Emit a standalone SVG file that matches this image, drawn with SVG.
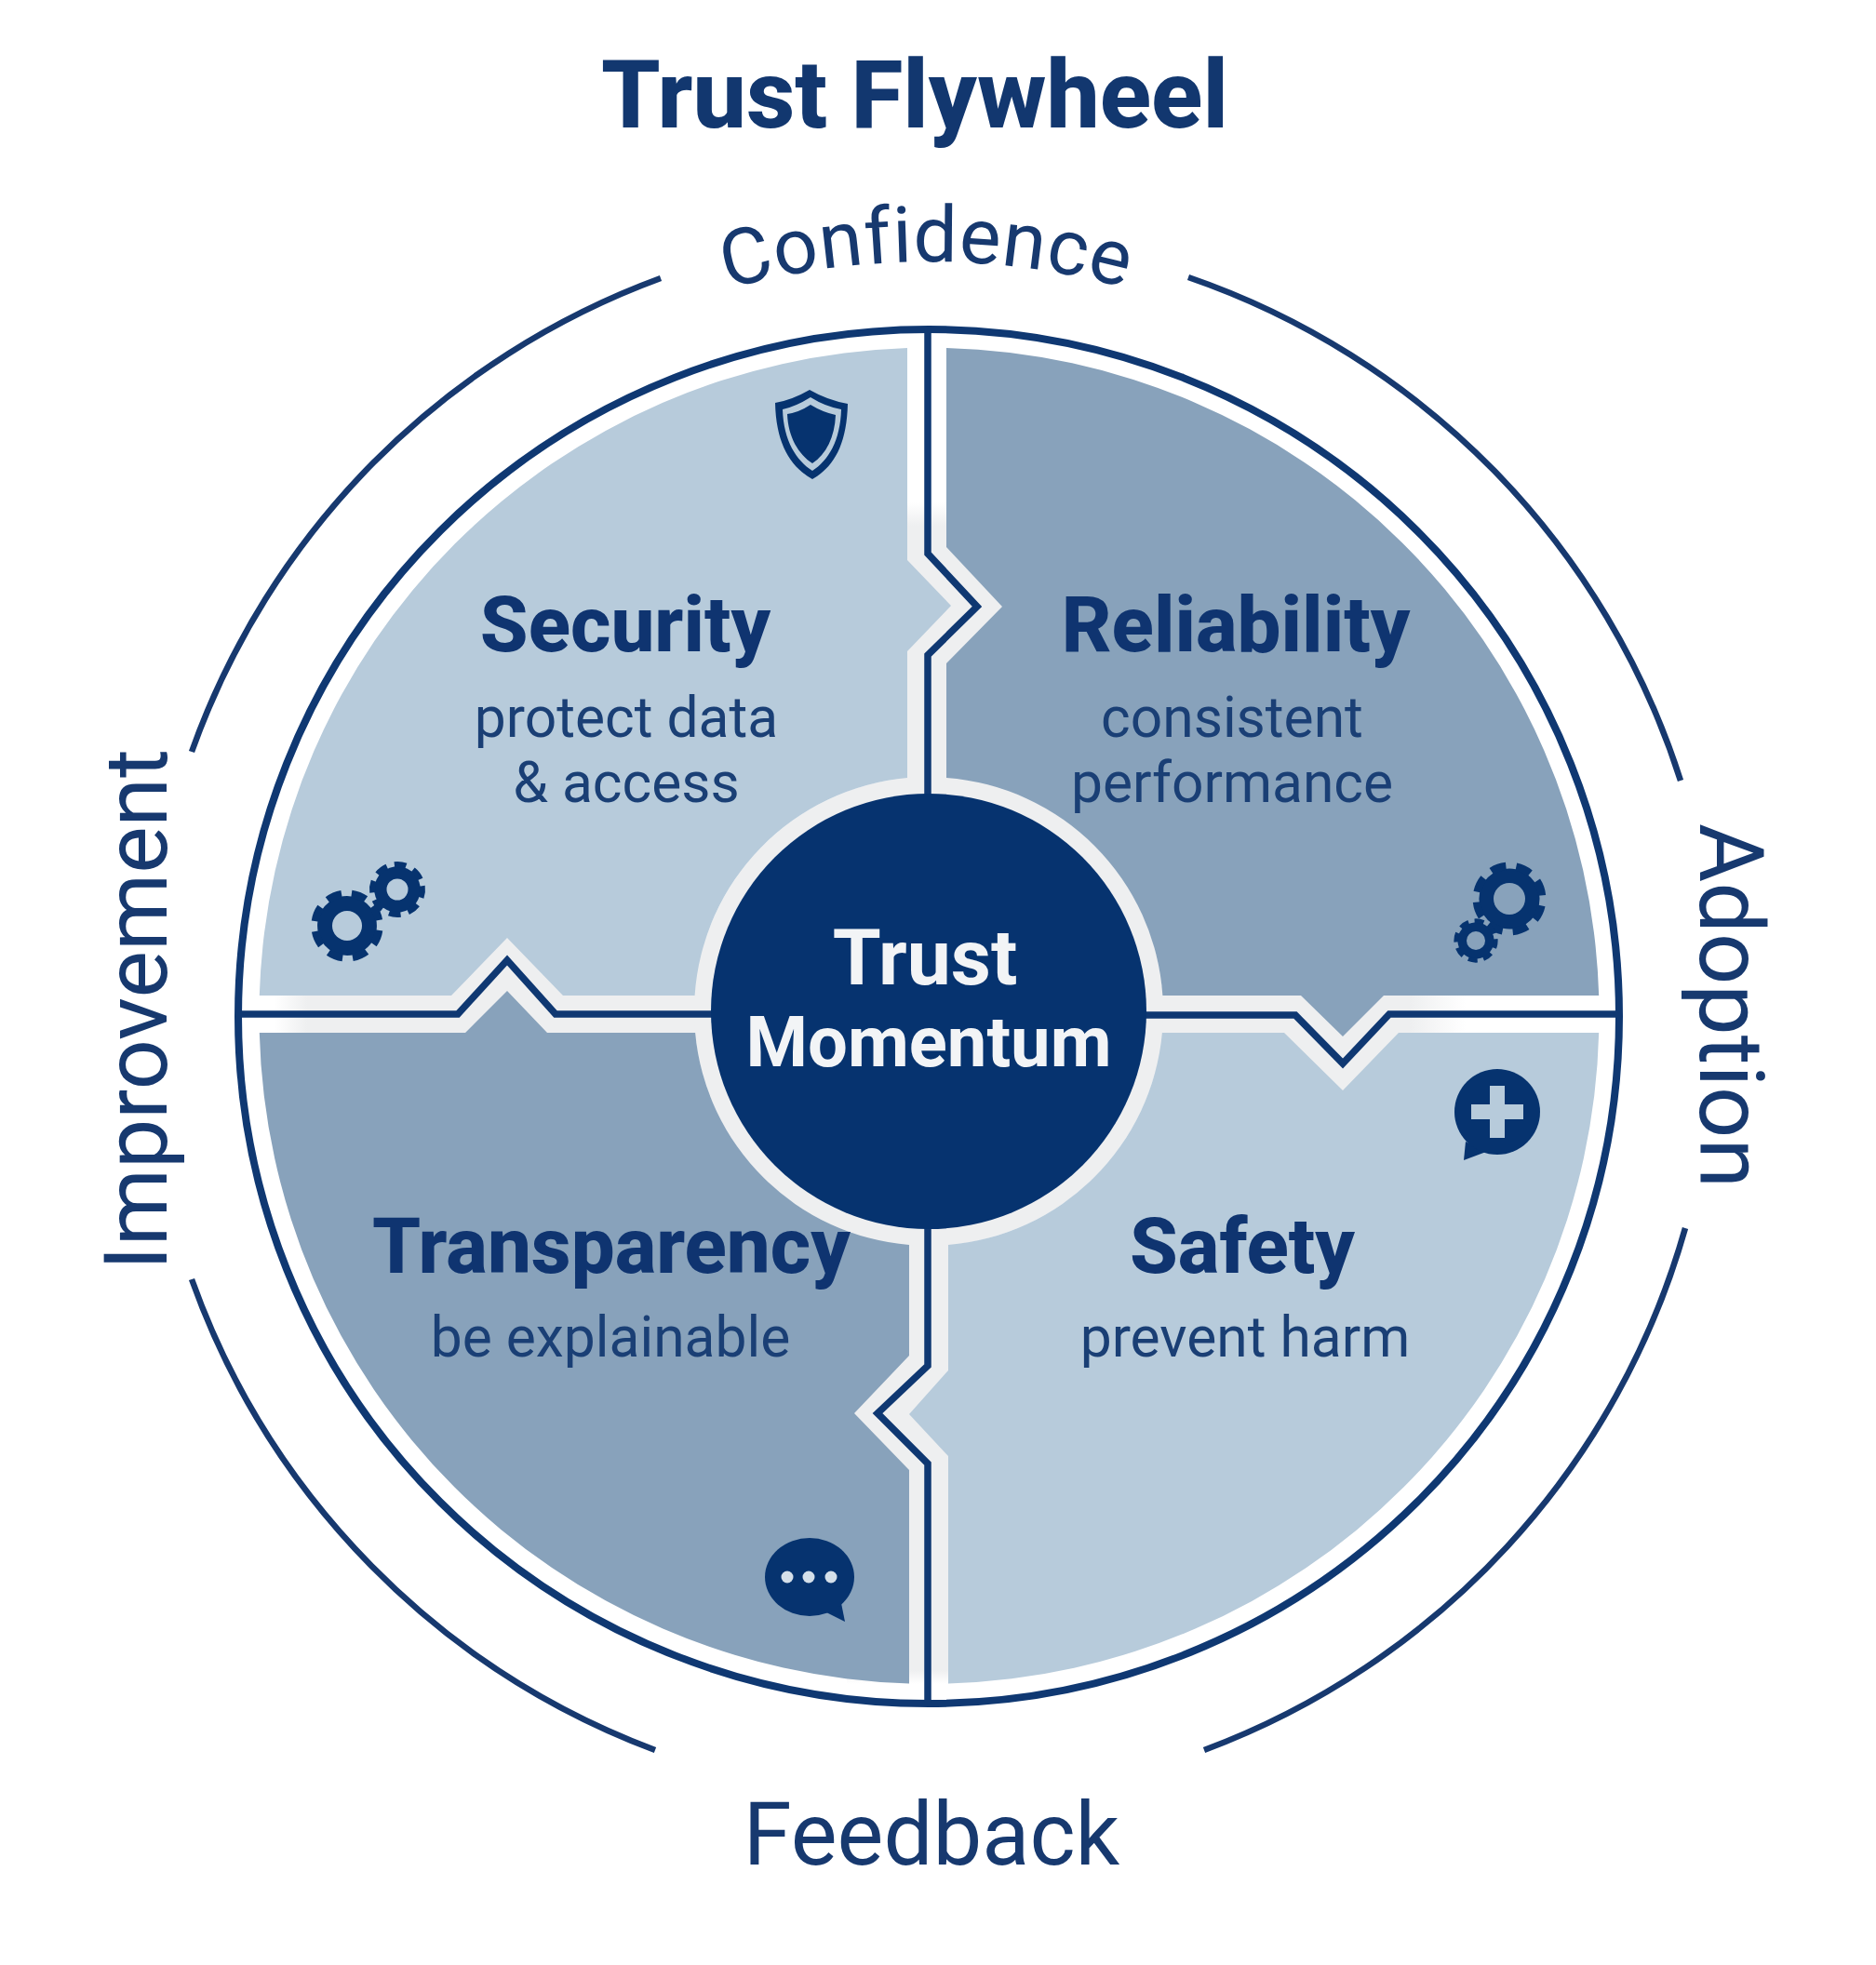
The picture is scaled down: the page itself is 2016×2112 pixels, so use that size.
<svg xmlns="http://www.w3.org/2000/svg" width="2016" height="2112" viewBox="0 0 2016 2112">
<style>
text{font-family:Roboto,"Liberation Sans",sans-serif;text-anchor:middle}
.head{font-weight:800;font-size:83.5px;fill:#0f3470}
.sub{font-size:60.5px;fill:#1a3f75}
.ring-label{fill:#17396f}
.center{font-weight:700;fill:#f2f4f6}
.light{fill:#b7cbdb}
.dark{fill:#88a2bb}
.navy{fill:#06336f}
.line{fill:none;stroke:#0f3872;stroke-width:7.5;stroke-linejoin:miter}
.arc{fill:none;stroke:#17396f;stroke-width:6.5}
</style>
<defs>
<linearGradient id="gt" gradientUnits="userSpaceOnUse" x1="0" y1="540" x2="0" y2="565"><stop offset="0" stop-color="#fff"/><stop offset="1" stop-color="#eeeff0"/></linearGradient>
<linearGradient id="gl" gradientUnits="userSpaceOnUse" x1="295" y1="0" x2="330" y2="0"><stop offset="0" stop-color="#fff"/><stop offset="1" stop-color="#eeeff0"/></linearGradient>
<linearGradient id="gr" gradientUnits="userSpaceOnUse" x1="1515" y1="0" x2="1575" y2="0"><stop offset="0" stop-color="#eeeff0"/><stop offset="1" stop-color="#fff"/></linearGradient>
<linearGradient id="gb" gradientUnits="userSpaceOnUse" x1="0" y1="1795" x2="0" y2="1810"><stop offset="0" stop-color="#eeeff0"/><stop offset="1" stop-color="#fff"/></linearGradient>
<g id="gear"><circle r="31" fill="#06336f"/><circle r="33.5" fill="none" stroke="#06336f" stroke-width="8" pathLength="80" stroke-dasharray="6 4"/></g>
</defs>
<rect width="2016" height="2112" fill="#fff"/>
<g id="gaps">
<rect x="960" y="540" width="130" height="310" fill="url(#gt)"/>
<rect x="280" y="1000" width="480" height="120" fill="url(#gl)"/>
<rect x="1240" y="1060" width="340" height="120" fill="url(#gr)"/>
<rect x="910" y="1325" width="120" height="485" fill="url(#gb)"/>
<circle cx="998" cy="1087" r="252" fill="#eeeff0"/>
</g>
<g id="node-security">
<path class="light" d="M975 374.1V602L1022 651L975 700V836A252 252 0 0 0 746.6 1070H605L545 1008L485 1070H278.8A720 718 0 0 1 975 374.1Z"/>
<path class="navy" d="M870 419Q851 430 833 433C834 478 850 502 873 515C896 502 910 478 911 434Q889 430 870 419Z"/>
<path class="light" d="M871 427Q855 437 841 440C842 474 856 495 873 506C890 495 903 474 904 440Q887 437 871 427Z"/>
<path class="navy" d="M871 435Q859 443 846 445C847 470 858 488 873 498C888 488 897 470 898 446Q884 443 871 435Z"/>
<use href="#gear" transform="translate(373 995) scale(1.03) rotate(8)"/>
<circle class="light" cx="373" cy="995" r="16"/>
<use href="#gear" transform="translate(427 956) scale(.8) rotate(-8)"/>
<circle class="light" cx="427" cy="956" r="11.5"/>
</g>
<g id="node-reliability">
<path class="dark" d="M1017 374V588L1077 652L1017 713V836A252 252 0 0 1 1249.4 1070H1398L1443 1114L1487 1070H1718.2A720 718 0 0 0 1017 374Z"/>
<use href="#gear" transform="translate(1622 966) scale(1.05) rotate(12)"/>
<circle class="dark" cx="1622" cy="966" r="17"/>
<use href="#gear" transform="translate(1586 1011) scale(.63) rotate(-5)"/>
<circle class="dark" cx="1586" cy="1011" r="10"/>
</g>
<g id="node-safety">
<path class="light" d="M1248.9 1110H1380L1443 1172L1503 1110H1718.2A720 718 0 0 1 1019 1809.4V1565L977 1520L1019 1473V1338A252 252 0 0 0 1248.9 1110Z"/>
<path class="navy" d="M1575 1227L1573 1247L1597 1238Z"/>
<circle class="navy" cx="1609" cy="1195" r="46"/>
<path class="light" d="M1601 1167H1617V1187H1637V1203H1617V1223H1601V1203H1581V1187H1601Z"/>
</g>
<g id="node-transparency">
<path class="dark" d="M747.1 1110H588L545 1065L500 1110H278.8A720 718 0 0 0 977 1809.4V1580L918 1519L977 1457V1338A252 252 0 0 1 747.1 1110Z"/>
<path class="navy" d="M888 1733L908 1743L904 1723Z"/>
<ellipse class="navy" cx="870" cy="1695" rx="48" ry="42"/>
<circle cx="846" cy="1695" r="6.5" fill="#d5e0ea"/><circle cx="869" cy="1695" r="6.5" fill="#d5e0ea"/><circle cx="893" cy="1695" r="6.5" fill="#d5e0ea"/>
</g>
<g id="connectors">
<ellipse class="line" cx="998" cy="1092.5" rx="742" ry="738.5" style="stroke-width:8"/>
<path class="line" d="M997 354V595L1050 652L997 704V860"/>
<path class="line" d="M258 1090H492L545 1032L597 1090H770"/>
<path class="line" d="M1228 1091H1392L1443 1143L1493 1090H1738"/>
<path class="line" d="M997 1315V1468L943 1519L997 1573V1830"/>
<path class="arc" d="M710 299A843 843 0 0 0 206 808"/>
<path class="arc" d="M1277 298A843 843 0 0 1 1806 839"/>
<path class="arc" d="M1811 1320A843 843 0 0 1 1294 1881"/>
<path class="arc" d="M704 1881A843 843 0 0 1 206 1375"/>
</g>
<g id="node-center">
<circle class="navy" cx="998" cy="1087" r="234"/>
<text class="center" x="994" y="1058" font-size="84">Trust</text>
<text class="center" x="998" y="1146" font-size="76">Momentum</text>
</g>
<g id="labels">
<text x="983" y="137" font-weight="800" font-size="102" fill="#12376f">Trust Flywheel</text>
<path id="conf" d="M187 1092A811 811 0 0 1 1809 1092" fill="none"/>
<text class="ring-label" style="font-size:84px;letter-spacing:.8px"><textPath href="#conf" startOffset="49.9%">Confidence</textPath></text>
<text class="ring-label" font-size="97" transform="translate(1827 1081) rotate(90)">Adoption</text>
<text class="ring-label" font-size="94" x="1001" y="2004">Feedback</text>
<text class="ring-label" font-size="95" transform="translate(179 1085) rotate(-90)">Improvement</text>
<text class="head" x="672" y="700">Security</text>
<text class="sub" x="673" y="792">protect data</text>
<text class="sub" x="673" y="862">&amp; access</text>
<text class="head" x="1328" y="700">Reliability</text>
<text class="sub" x="1324" y="792">consistent</text>
<text class="sub" x="1324" y="862">performance</text>
<text class="head" x="657" y="1368">Transparency</text>
<text class="sub" x="656" y="1458">be explainable</text>
<text class="head" x="1335" y="1368">Safety</text>
<text class="sub" x="1338" y="1458">prevent harm</text>
</g>
</svg>
